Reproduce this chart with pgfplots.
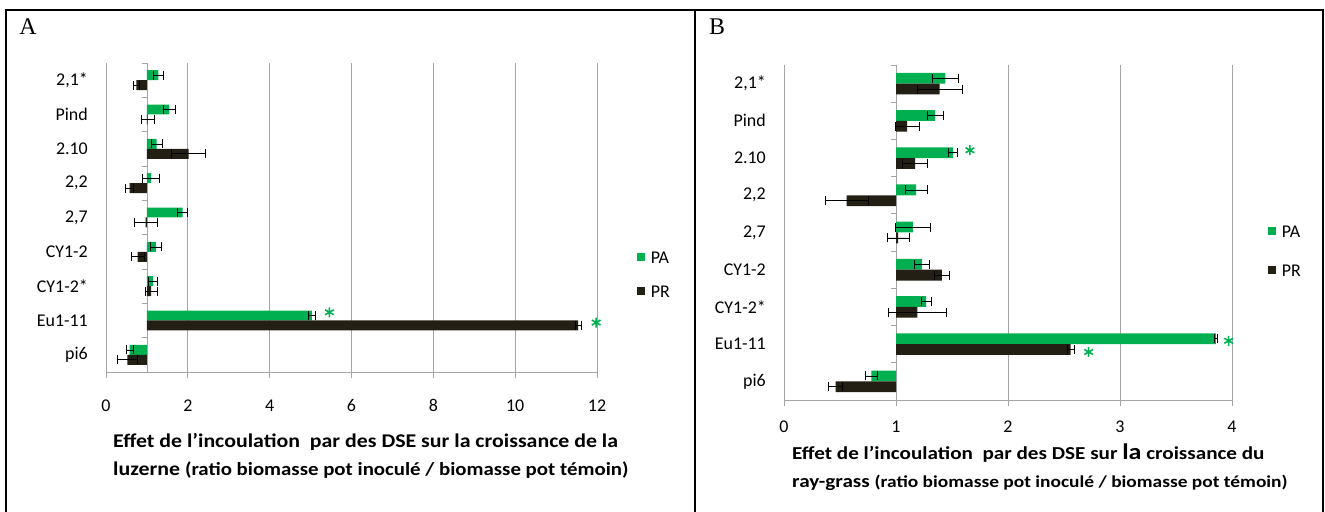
\documentclass[border=0pt]{standalone}
\usepackage{pgfplots}
\pgfplotsset{compat=1.18}
\usepackage{pgfplotstable}
\usepackage{fontspec}
\setmainfont{Carlito}
\newfontfamily\seriffont{Liberation Serif}
\definecolor{paGreen}{RGB}{0,176,80}
\definecolor{prBlack}{RGB}{35,31,20}
\definecolor{gridGray}{RGB}{165,165,165}

% y: 0 = pi6 (bottom) ... 8 = 2,1* (top); values are ratios (bars start at 1)
\pgfplotstableread{
y pa paerr pr prerr
0 0.58 0.09 0.52 0.25
1 5.03 0.09 11.54 0.07
2 1.15 0.11 1.10 0.15
3 1.22 0.14 0.77 0.16
4 1.87 0.12 0.97 0.28
5 1.10 0.21 0.58 0.10
6 1.24 0.13 2.02 0.42
7 1.55 0.14 1.02 0.16
8 1.28 0.12 0.74 0.08
}\dataA
\pgfplotstableread{
y pa paerr pr prerr
0 0.78 0.055 0.46 0.06
1 3.855 0.015 2.56 0.03
2 1.27 0.045 1.19 0.26
3 1.23 0.065 1.41 0.07
4 1.15 0.155 1.02 0.10
5 1.18 0.10 0.56 0.19
6 1.51 0.04 1.17 0.11
7 1.35 0.07 1.10 0.11
8 1.44 0.12 1.39 0.20
}\dataB
\pgfplotstableread{
x y
5.46 1.24
11.98 0.94
}\starsA
\pgfplotstableread{
x y
3.97 1.09
2.72 0.79
1.66 6.21
}\starsB
% bars start at ratio 1: plot against the shifted axis (ratio - 1)
\pgfplotstablecreatecol[expr={\thisrow{pa}-1}]{pad}{\dataA}
\pgfplotstablecreatecol[expr={\thisrow{pr}-1}]{prd}{\dataA}
\pgfplotstablecreatecol[expr={\thisrow{pa}-1}]{pad}{\dataB}
\pgfplotstablecreatecol[expr={\thisrow{pr}-1}]{prd}{\dataB}
\pgfplotstablecreatecol[expr={\thisrow{x}-1}]{xd}{\starsA}
\pgfplotstablecreatecol[expr={\thisrow{x}-1}]{xd}{\starsB}

\pgfplotsset{
  dsebase/.style={
    scale only axis,
    anchor=south west,
    axis x line*=bottom,
    axis y line*=left,
    ymin=-0.5, ymax=8.5,
    ytick={0,...,8},
    yticklabels={pi6,Eu1-11,CY1-2*,CY1-2,{2,7},{2,2},2.10,Pind,{2,1*}},
    y tick style={draw=none},
    yticklabel style={anchor=east, inner sep=0pt, xshift=-12bp, font=\fontsize{18}{20}\selectfont},
    xticklabel style={anchor=base, inner sep=0pt, font=\fontsize{18}{20}\selectfont},
    xmajorgrids=true,
    major grid style={gridGray, line width=0.8bp},
    axis line style={gridGray, line width=0.8bp},
    x tick style={gridGray, line width=0.8bp},
    tick align=outside,
    major tick length=6bp,
    extra x ticks={0},
    extra x tick labels={},
    extra x tick style={grid=major, major tick length=0pt},
    bar width=0.29,
    bar shift=0pt,
    legend style={draw=none, fill=none, anchor=west, inner sep=0pt,
      font=\fontsize{18}{20}\selectfont,
      nodes={inner sep=0pt, text height=12bp, text depth=0bp},
      column sep=6bp},
    legend cell align=left,
  },
  sqlegend/.style={legend image code/.code={\fill[##1] (0bp,-3.6bp) rectangle (7.3bp,3.6bp);}},
  ebar/.style={error bars/.cd, x dir=both, x explicit, error mark=|,
    error bar style={draw=black, line width=0.7bp},
    error mark options={draw=black, line width=0.7bp, mark size=4.5bp}},
  stars/.style={only marks, mark=asterisk, mark size=5bp, color=paGreen,
    mark options={line width=1.6bp}, forget plot},
}

\begin{document}
\begin{tikzpicture}
\useasboundingbox (0,0) rectangle (1325bp,512bp);
% frames
\draw[line width=2bp] (6bp,-10bp) -- (6bp,502bp) -- (1322.5bp,502bp) -- (1322.5bp,-10bp);
\draw[line width=2bp] (694.5bp,-10bp) -- (694.5bp,502bp);
\node[font=\seriffont\fontsize{24}{26}\selectfont, inner sep=0pt] at (28bp,485bp) {A};
\node[font=\seriffont\fontsize{24}{26}\selectfont, inner sep=0pt] at (717bp,485bp) {B};

% Panel A
\begin{axis}[dsebase,
  at={(106bp,140bp)}, width=491bp, height=309bp,
  xmin=-1, xmax=11,
  xtick={-1,1,3,5,7,9,11}, xticklabels={0,2,4,6,8,10,12},
  xticklabel style={yshift=-34bp},
  legend style={at={(1.082,0.317)}, row sep=22bp},
]
\addplot[xbar, bar shift=0pt, fill=paGreen, draw=none, sqlegend, ebar]
  table[x=pad, y expr=\thisrow{y}+0.145, x error=paerr]{\dataA};
\addplot[xbar, bar shift=0pt, fill=prBlack, draw=none, sqlegend, ebar]
  table[x=prd, y expr=\thisrow{y}-0.145, x error=prerr]{\dataA};
\addplot[stars] table[x=xd, y=y]{\starsA};
\pgfplotsinvokeforeach{0.5,1.5,2.5,3.5,4.5,5.5,6.5,7.5,8.5}{
  \draw[gridGray, line width=0.8bp] (axis cs:0,#1) -- ++(-5bp,0bp);
}
\legend{PA,PR}
\end{axis}

% Panel B
\begin{axis}[dsebase,
  at={(784bp,112bp)}, width=448bp, height=335bp,
  xmin=-1, xmax=3,
  xtick={-1,0,1,2,3}, xticklabels={0,1,2,3,4},
  xticklabel style={yshift=-26bp},
  legend style={at={(1.081,0.446)}, row sep=27bp},
]
\addplot[xbar, bar shift=0pt, fill=paGreen, draw=none, sqlegend, ebar]
  table[x=pad, y expr=\thisrow{y}+0.145, x error=paerr]{\dataB};
\addplot[xbar, bar shift=0pt, fill=prBlack, draw=none, sqlegend, ebar]
  table[x=prd, y expr=\thisrow{y}-0.145, x error=prerr]{\dataB};
\addplot[stars] table[x=xd, y=y]{\starsB};
\pgfplotsinvokeforeach{0.5,1.5,2.5,3.5,4.5,5.5,6.5,7.5,8.5}{
  \draw[gridGray, line width=0.8bp] (axis cs:0,#1) -- ++(-5bp,0bp);
}
\legend{PA,PR}
\end{axis}

% axis titles
\node[anchor=base west, inner sep=0pt, font=\bfseries\fontsize{19.5}{22}\selectfont] at (113bp,64bp)
  {\scalebox{1.125}[1]{Effet de l’incoulation\ \ par des DSE sur la croissance de la}};
\node[anchor=base west, inner sep=0pt, font=\bfseries\fontsize{19.5}{22}\selectfont] at (113bp,37bp)
  {\scalebox{1.125}[1]{luzerne {\fontsize{18.6}{20}\selectfont(ratio biomasse pot inoculé / biomasse pot témoin)}}};
\node[anchor=base west, inner sep=0pt, font=\bfseries\fontsize{18.3}{21}\selectfont] at (792bp,52bp)
  {\scalebox{1.16}[1]{Effet de l’incoulation\ \ par des DSE sur {\fontsize{22.5}{24}\selectfont la} croissance du}};
\node[anchor=base west, inner sep=0pt, font=\bfseries\fontsize{18.3}{21}\selectfont] at (792bp,25bp)
  {\scalebox{1.16}[1]{ray-grass {\fontsize{16.8}{19}\selectfont(ratio biomasse pot inoculé / biomasse pot témoin)}}};
\end{tikzpicture}
\end{document}
